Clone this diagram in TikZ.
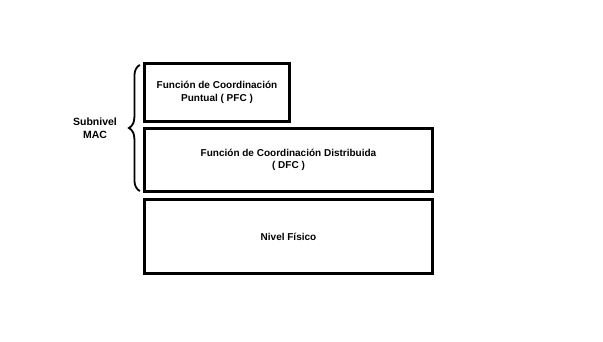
\documentclass[tikz,border=0pt]{standalone}
\usepackage{fontspec}
\setmainfont{Liberation Sans}
\usetikzlibrary{positioning,calc,decorations.pathreplacing}

\begin{document}
\begin{tikzpicture}[x=1pt,y=-1pt,
  layer/.style={draw,line width=3.2pt,inner sep=0pt,font=\fontsize{10}{12.5}\selectfont\bfseries,align=center},
]
  \useasboundingbox (0,0) rectangle (603,342);

  \node[layer,minimum width=145pt,minimum height=58pt] (pfc) at (217,92.5) {Función de Coordinación\\Puntual ( PFC )};
  \node[layer,minimum width=288pt,minimum height=63pt] (dfc) at (288.5,160) {Función de Coordinación Distribuida\\( DFC )};
  \node[layer,minimum width=288pt,minimum height=74pt] (fis) at (288.5,236.5) {Nivel Físico};

  % llave del subnivel MAC
  \draw[line width=1.8pt,decorate,decoration={brace,amplitude=11pt}]
    ($(dfc.south west)+(-3,-2)$) -- ($(pfc.north west)+(-3,3)$);
  \node[font=\fontsize{10.5}{13}\selectfont\bfseries,align=center] (mac) at (95,128) {Subnivel\\MAC};
\end{tikzpicture}
\end{document}
